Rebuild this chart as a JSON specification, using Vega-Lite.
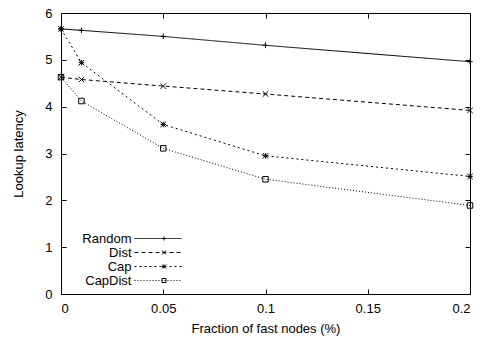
{
  "$schema": "https://vega.github.io/schema/vega-lite/v6.json",
  "width": 409,
  "height": 281,
  "autosize": {"type": "none"},
  "padding": {"left": 61, "top": 13, "right": 13, "bottom": 49},
  "config": {
    "font": "Liberation Sans",
    "view": {"stroke": "black", "strokeWidth": 1},
    "axis": {
      "domain": false,
      "grid": false,
      "tickColor": "black",
      "tickSize": -5,
      "labelColor": "black",
      "labelFontSize": 13,
      "titleColor": "black",
      "titleFontSize": 13,
      "titleFontWeight": "normal"
    }
  },
  "data": {
    "values": [
      {"series": "Random", "x": 0, "y": 5.66},
      {"series": "Random", "x": 0.01, "y": 5.63},
      {"series": "Random", "x": 0.05, "y": 5.50},
      {"series": "Random", "x": 0.1, "y": 5.31},
      {"series": "Random", "x": 0.2, "y": 4.96},
      {"series": "Dist", "x": 0, "y": 4.63},
      {"series": "Dist", "x": 0.01, "y": 4.58},
      {"series": "Dist", "x": 0.05, "y": 4.44},
      {"series": "Dist", "x": 0.1, "y": 4.27},
      {"series": "Dist", "x": 0.2, "y": 3.92},
      {"series": "Cap", "x": 0, "y": 5.66},
      {"series": "Cap", "x": 0.01, "y": 4.94},
      {"series": "Cap", "x": 0.05, "y": 3.62},
      {"series": "Cap", "x": 0.1, "y": 2.95},
      {"series": "Cap", "x": 0.2, "y": 2.51},
      {"series": "CapDist", "x": 0, "y": 4.63},
      {"series": "CapDist", "x": 0.01, "y": 4.12},
      {"series": "CapDist", "x": 0.05, "y": 3.11},
      {"series": "CapDist", "x": 0.1, "y": 2.45},
      {"series": "CapDist", "x": 0.2, "y": 1.89}
    ]
  },
  "layer": [
    {
      "mark": {"type": "line", "color": "black", "strokeWidth": 1},
      "encoding": {
        "x": {
          "field": "x", "type": "quantitative",
          "scale": {"domain": [0, 0.2], "nice": false, "zero": false},
          "axis": {"values": [0, 0.05, 0.1, 0.15, 0.2], "format": "~g", "labelPadding": 13, "title": "Fraction of fast nodes (%)", "titlePadding": 7, "orient": "bottom"}
        },
        "y": {
          "field": "y", "type": "quantitative",
          "scale": {"domain": [0, 6], "nice": false},
          "axis": {"values": [0, 1, 2, 3, 4, 5, 6], "labelPadding": 14, "title": "Lookup latency", "titlePadding": 19, "orient": "left"}
        },
        "strokeDash": {
          "field": "series", "type": "nominal",
          "scale": {"domain": ["Random", "Dist", "Cap", "CapDist"], "range": [[1, 0], [4, 3], [2, 3], [1, 2]]},
          "legend": {
            "title": null,
            "orient": "none",
            "legendX": 90.5,
            "legendY": 219,
            "padding": 0,
            "symbolType": "M-4,0H4",
            "symbolSize": 138,
            "symbolStrokeColor": "black",
            "symbolStrokeWidth": 1,
            "symbolOpacity": 1,
            "symbolOffset": 0,
            "rowPadding": -0.8,
            "labelAlign": "right",
            "labelOffset": -33,
            "labelFontSize": 13,
            "labelColor": "black"
          }
        }
      }
    },
    {
      "mark": {"type": "point", "filled": false, "stroke": "black", "strokeWidth": 1, "opacity": 1},
      "encoding": {
        "x": {
          "field": "x", "type": "quantitative",
          "scale": {"domain": [0, 0.2], "nice": false, "zero": false},
          "axis": {"values": [0, 0.05, 0.1, 0.15, 0.2], "labels": false, "title": null, "orient": "top"}
        },
        "y": {
          "field": "y", "type": "quantitative",
          "scale": {"domain": [0, 6], "nice": false},
          "axis": {"values": [0, 1, 2, 3, 4, 5, 6], "labels": false, "title": null, "orient": "right"}
        },
        "shape": {
          "field": "series", "type": "nominal",
          "scale": {"domain": ["Random", "Dist", "Cap", "CapDist", "-"], "range": ["M-1,0H1M0,-1V1", "M-1,-1L1,1M-1,1L1,-1", "M-1,0H1M0,-1V1M-1,-1L1,1M-1,1L1,-1", "M-1,-1H1V1H-1Z", "M-1,-1H1V1H-1Z"]},
          "legend": {
            "values": ["Random", "Dist", "Cap", "CapDist"],
            "title": null,
            "orient": "none",
            "legendX": 96.5,
            "legendY": 219,
            "padding": 0,
            "symbolSize": 16,
            "symbolStrokeColor": "black",
            "symbolFillColor": "transparent",
            "symbolStrokeWidth": 1,
            "symbolOpacity": 1,
            "symbolOffset": 0,
            "rowPadding": -0.8,
            "labelOpacity": 0,
            "labelFontSize": 13
          }
        },
        "size": {"value": 30}
      }
    }
  ],
  "resolve": {"axis": {"x": "independent", "y": "independent"}}
}
